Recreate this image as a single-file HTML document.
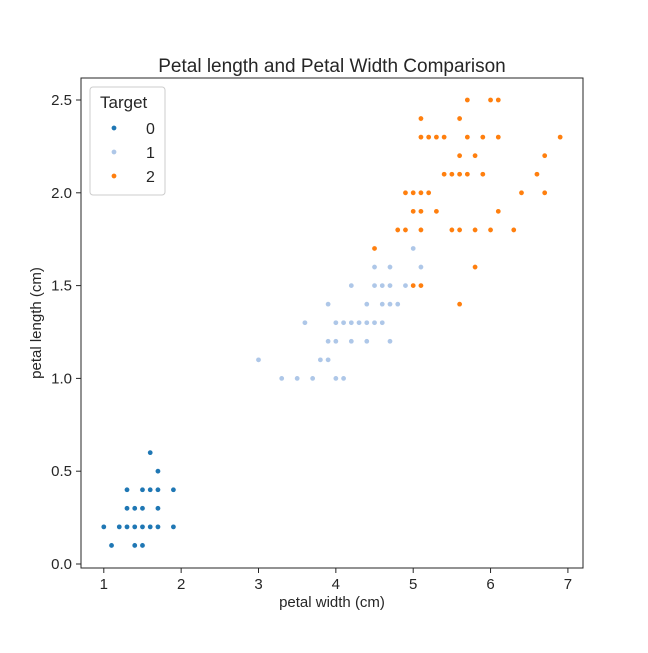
<!DOCTYPE html>
<html><head><meta charset="utf-8"><style>
body{margin:0;background:#fff;}
svg{font-family:"Liberation Sans","DejaVu Sans",sans-serif;}
</style></head><body>
<svg id="chart" width="648" height="648">
<rect x="0" y="0" width="648" height="648" fill="#fff"/>
<text x="332" y="72" font-size="19" text-anchor="middle" fill="#262626">Petal length and Petal Width Comparison</text>
<g id="axes"></g>
<g id="points"></g>
<rect x="81" y="78" width="502" height="490" fill="none" stroke="#262626" stroke-width="1"/>
<text x="332" y="607" font-size="15" text-anchor="middle" fill="#262626">petal width (cm)</text>
<text x="0" y="0" font-size="15" text-anchor="middle" fill="#262626" transform="translate(41,323) rotate(-90)">petal length (cm)</text>
<g>
<rect x="90" y="87" width="75" height="108" rx="3" fill="#fff" fill-opacity="0.8" stroke="#ccc"/>
<text x="100" y="108" font-size="17" fill="#262626">Target</text>
<g id="legend-entries"></g>
</g>
</svg>
<script>
const xTicks=[1,2,3,4,5,6,7];
const yTicks=[0.0,0.5,1.0,1.5,2.0,2.5];
const classes=["0","1","2"];
const colors=["#1f77b4","#aec7e8","#ff7f0e"];
const setosa=[[1.4,0.2],[1.4,0.2],[1.3,0.2],[1.5,0.2],[1.4,0.2],[1.7,0.4],[1.4,0.3],[1.5,0.2],[1.4,0.2],[1.5,0.1],[1.5,0.2],[1.6,0.2],[1.4,0.1],[1.1,0.1],[1.2,0.2],[1.5,0.4],[1.3,0.4],[1.4,0.3],[1.7,0.3],[1.5,0.3],[1.7,0.2],[1.5,0.4],[1.0,0.2],[1.7,0.5],[1.9,0.2],[1.6,0.2],[1.6,0.4],[1.5,0.2],[1.4,0.2],[1.6,0.2],[1.6,0.2],[1.5,0.4],[1.5,0.1],[1.4,0.2],[1.5,0.2],[1.2,0.2],[1.3,0.2],[1.4,0.1],[1.3,0.2],[1.5,0.2],[1.3,0.3],[1.3,0.3],[1.3,0.2],[1.6,0.6],[1.9,0.4],[1.4,0.3],[1.6,0.2],[1.4,0.2],[1.5,0.2],[1.4,0.2]];
const versicolor=[[4.7,1.4],[4.5,1.5],[4.9,1.5],[4.0,1.3],[4.6,1.5],[4.5,1.3],[4.7,1.6],[3.3,1.0],[4.6,1.3],[3.9,1.4],[3.5,1.0],[4.2,1.5],[4.0,1.0],[4.7,1.4],[3.6,1.3],[4.4,1.4],[4.5,1.5],[4.1,1.0],[4.5,1.5],[3.9,1.1],[4.8,1.8],[4.0,1.3],[4.9,1.5],[4.7,1.2],[4.3,1.3],[4.4,1.4],[4.8,1.4],[5.0,1.7],[4.5,1.5],[3.5,1.0],[3.8,1.1],[3.7,1.0],[3.9,1.2],[5.1,1.6],[4.5,1.5],[4.5,1.6],[4.7,1.5],[4.4,1.3],[4.1,1.3],[4.0,1.3],[4.4,1.2],[4.6,1.4],[4.0,1.2],[3.3,1.0],[4.2,1.3],[4.2,1.2],[4.2,1.3],[4.3,1.3],[3.0,1.1],[4.1,1.3]];
const virginica=[[6.0,2.5],[5.1,1.9],[5.9,2.1],[5.6,1.8],[5.8,2.2],[6.6,2.1],[4.5,1.7],[6.3,1.8],[5.8,1.8],[6.1,2.5],[5.1,2.0],[5.3,1.9],[5.5,2.1],[5.0,2.0],[5.1,2.4],[5.3,2.3],[5.5,1.8],[6.7,2.2],[6.9,2.3],[5.0,1.5],[5.7,2.3],[4.9,2.0],[6.7,2.0],[4.9,1.8],[5.7,2.1],[6.0,1.8],[4.8,1.8],[4.9,1.8],[5.6,2.1],[5.8,1.6],[6.1,1.9],[6.4,2.0],[5.6,2.2],[5.1,1.5],[5.6,1.4],[6.1,2.3],[5.6,2.4],[5.5,1.8],[4.8,1.8],[5.4,2.1],[5.6,2.4],[5.1,2.3],[5.1,1.9],[5.9,2.3],[5.7,2.5],[5.2,2.3],[5.0,1.9],[5.2,2.0],[5.4,2.3],[5.1,1.8]];
const series=[setosa,versicolor,virginica];
const NS="http://www.w3.org/2000/svg";
function xs(v){return 103.8+(v-1)*77.35;}
function ys(v){return 564-v*185.6;}
const ax=document.getElementById('axes');
xTicks.forEach(t=>{
  const l=document.createElementNS(NS,'line');
  l.setAttribute('x1',xs(t));l.setAttribute('x2',xs(t));l.setAttribute('y1',568);l.setAttribute('y2',573);l.setAttribute('stroke','#262626');
  
  
  ax.appendChild(l);
  const tx=document.createElementNS(NS,'text');
  tx.setAttribute('x',xs(t));tx.setAttribute('y',589);tx.setAttribute('font-size','15');tx.setAttribute('text-anchor','middle');tx.setAttribute('fill','#262626');
  tx.textContent=String(t);
  
  
  ax.appendChild(tx);
});
yTicks.forEach(t=>{
  const l=document.createElementNS(NS,'line');
  l.setAttribute('x1',76);l.setAttribute('x2',81);l.setAttribute('y1',ys(t));l.setAttribute('y2',ys(t));l.setAttribute('stroke','#262626');
  
  
  ax.appendChild(l);
  const tx=document.createElementNS(NS,'text');
  tx.setAttribute('x',72);tx.setAttribute('y',ys(t)+5);tx.setAttribute('font-size','15');tx.setAttribute('text-anchor','end');tx.setAttribute('fill','#262626');
  tx.textContent=t.toFixed(1);
  
  
  ax.appendChild(tx);
});
const pg=document.getElementById('points');
series.forEach((s,i)=>{
  s.forEach(p=>{
    const c=document.createElementNS(NS,'circle');
    c.setAttribute('cx',xs(p[0]));c.setAttribute('cy',ys(p[1]));c.setAttribute('r',2.7);
    c.setAttribute('fill',colors[i]);c.setAttribute('stroke','#fff');c.setAttribute('stroke-width','0.6');
    
    
    pg.appendChild(c);
  });
});
const lg=document.getElementById('legend-entries');
classes.forEach((c,i)=>{
  const y=128+i*24;
  const dot=document.createElementNS(NS,'circle');
  dot.setAttribute('cx',114);dot.setAttribute('cy',y);dot.setAttribute('r',2.7);dot.setAttribute('fill',colors[i]);dot.setAttribute('stroke','#fff');dot.setAttribute('stroke-width','0.6');
  
  
  lg.appendChild(dot);
  const tx=document.createElementNS(NS,'text');
  tx.setAttribute('x',146);tx.setAttribute('y',y+6);tx.setAttribute('font-size','16');tx.setAttribute('fill','#262626');
  tx.textContent=c;
  
  
  lg.appendChild(tx);
});
</script>
</body></html>
